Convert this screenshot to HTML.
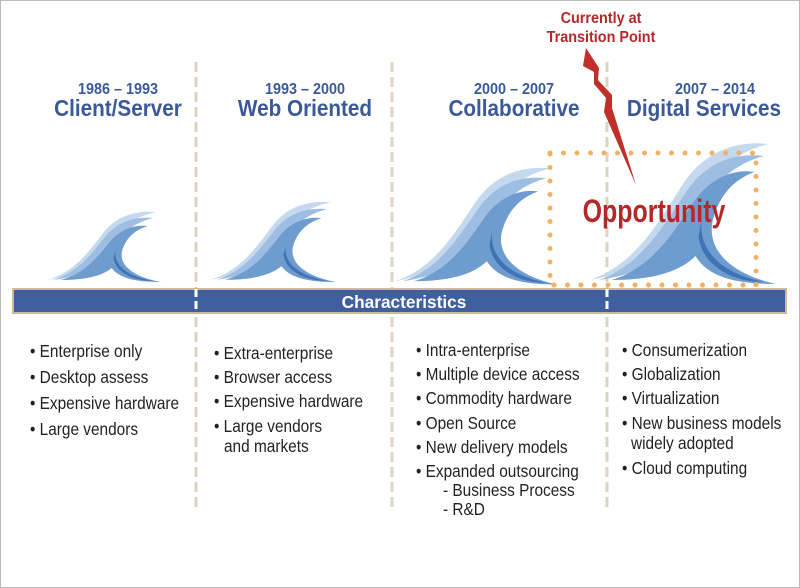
<!DOCTYPE html>
<html><head><meta charset="utf-8"><style>
html,body{margin:0;padding:0;background:#fff}
svg{display:block}
text{font-family:"Liberation Sans",sans-serif}
.h{fill:#3b5998;font-weight:bold;text-anchor:middle}
.b{fill:#222;font-size:17.5px}
</style></head><body>
<svg width="800" height="588" viewBox="0 0 800 588" xmlns="http://www.w3.org/2000/svg">
<defs>
<g id="wave">
<path d="M0,70 C30,62 45,40 60,22 C72,8 90,0 115,2 C95,6 82,14 72,28 C58,48 40,64 0,70Z" fill="#c4d8ee"/>
<path d="M6,70 C34,62 48,42 62,26 C74,12 92,6 112,8 C94,12 82,20 74,32 C60,52 42,66 6,70Z" fill="#9dbde2"/>
<path d="M14,70 C40,64 54,46 66,32 C76,20 92,14 106,16 C92,20 84,28 80,38 C74,52 86,66 120,72 C92,72 76,68 68,58 C58,66 40,70 14,70Z" fill="#6f9ccf"/>
<path d="M72,40 C70,54 82,66 112,71 C90,71 72,62 70,48Z" fill="#3f73b5"/>
</g>
</defs>
<rect x="0.5" y="0.5" width="799" height="587" fill="#fff" stroke="#bbb"/>
<g stroke="#ddd3c0" stroke-width="3" stroke-dasharray="10,5">
<line x1="196" y1="62" x2="196" y2="510"/>
<line x1="392" y1="62" x2="392" y2="510"/>
<line x1="607" y1="62" x2="607" y2="510"/>
</g>
<!-- headers -->
<g class="h">
<text class="h" font-size="16" transform="translate(118,94) scale(0.9,1)">1986 – 1993</text>
<text class="h" font-size="23" transform="translate(118,116) scale(0.9,1)">Client/Server</text>
<text class="h" font-size="16" transform="translate(305,94) scale(0.9,1)">1993 – 2000</text>
<text class="h" font-size="23" transform="translate(305,116) scale(0.9,1)">Web Oriented</text>
<text class="h" font-size="16" transform="translate(514,94) scale(0.9,1)">2000 – 2007</text>
<text class="h" font-size="23" transform="translate(514,116) scale(0.9,1)">Collaborative</text>
<text class="h" font-size="16" transform="translate(715,94) scale(0.9,1)">2007 – 2014</text>
<text class="h" font-size="23" transform="translate(704,116) scale(0.9,1)">Digital Services</text>
</g>
<use href="#wave" transform="translate(47,210) scale(0.95,1)"/>
<use href="#wave" transform="translate(210,200) scale(1.05,1.14)"/>
<use href="#wave" transform="translate(395,165) scale(1.35,1.66)"/>
<use href="#wave" transform="translate(590,140) scale(1.55,2.0)"/>
<rect x="550" y="153" width="206" height="132" fill="none" stroke="#f2b062" stroke-width="5" stroke-linecap="round" stroke-dasharray="0,13.5"/>
<text font-size="32" font-weight="bold" fill="#b5282a" text-anchor="middle" transform="translate(654,222) scale(0.78,1)">Opportunity</text>
<path d="M586,48 L599,68 L598,80 L612,95 L612,108 L636,185 L604,112 L606,98 L594,84 L594,72 L583,66Z" fill="#c0302a"/>
<text font-size="16" font-weight="bold" fill="#b5282a" text-anchor="middle" transform="translate(601,23) scale(0.9,1)">Currently at</text>
<text font-size="16" font-weight="bold" fill="#b5282a" text-anchor="middle" transform="translate(601,42) scale(0.9,1)">Transition Point</text>
<rect x="13" y="289" width="773" height="24" fill="#3f5fa0" stroke="#cdbb98" stroke-width="2"/>
<line x1="196" y1="289" x2="196" y2="313" stroke="#fff" stroke-width="3" stroke-dasharray="8,4"/>
<line x1="607" y1="289" x2="607" y2="313" stroke="#fff" stroke-width="3" stroke-dasharray="8,4"/>
<text font-size="18" font-weight="bold" fill="#fff" text-anchor="middle" transform="translate(404,308) scale(0.96,1)">Characteristics</text>
<g>
<text class="b" transform="translate(30,357) scale(0.88,1)">• Enterprise only</text>
<text class="b" transform="translate(30,383) scale(0.88,1)">• Desktop assess</text>
<text class="b" transform="translate(30,409) scale(0.88,1)">• Expensive hardware</text>
<text class="b" transform="translate(30,435) scale(0.88,1)">• Large vendors</text>
<text class="b" transform="translate(214,359) scale(0.88,1)">• Extra-enterprise</text>
<text class="b" transform="translate(214,383) scale(0.88,1)">• Browser access</text>
<text class="b" transform="translate(214,407) scale(0.88,1)">• Expensive hardware</text>
<text class="b" transform="translate(214,432) scale(0.88,1)">• Large vendors</text>
<text class="b" transform="translate(224,452) scale(0.88,1)">and markets</text>
<text class="b" transform="translate(416,356) scale(0.88,1)">• Intra-enterprise</text>
<text class="b" transform="translate(416,380) scale(0.88,1)">• Multiple device access</text>
<text class="b" transform="translate(416,404) scale(0.88,1)">• Commodity hardware</text>
<text class="b" transform="translate(416,429) scale(0.88,1)">• Open Source</text>
<text class="b" transform="translate(416,453) scale(0.88,1)">• New delivery models</text>
<text class="b" transform="translate(416,477) scale(0.88,1)">• Expanded outsourcing</text>
<text class="b" transform="translate(443,496) scale(0.88,1)">- Business Process</text>
<text class="b" transform="translate(443,515) scale(0.88,1)">- R&amp;D</text>
<text class="b" transform="translate(622,356) scale(0.88,1)">• Consumerization</text>
<text class="b" transform="translate(622,380) scale(0.88,1)">• Globalization</text>
<text class="b" transform="translate(622,404) scale(0.88,1)">• Virtualization</text>
<text class="b" transform="translate(622,429) scale(0.88,1)">• New business models</text>
<text class="b" transform="translate(631,449) scale(0.88,1)">widely adopted</text>
<text class="b" transform="translate(622,474) scale(0.88,1)">• Cloud computing</text>
</g>
</svg>
</body></html>
